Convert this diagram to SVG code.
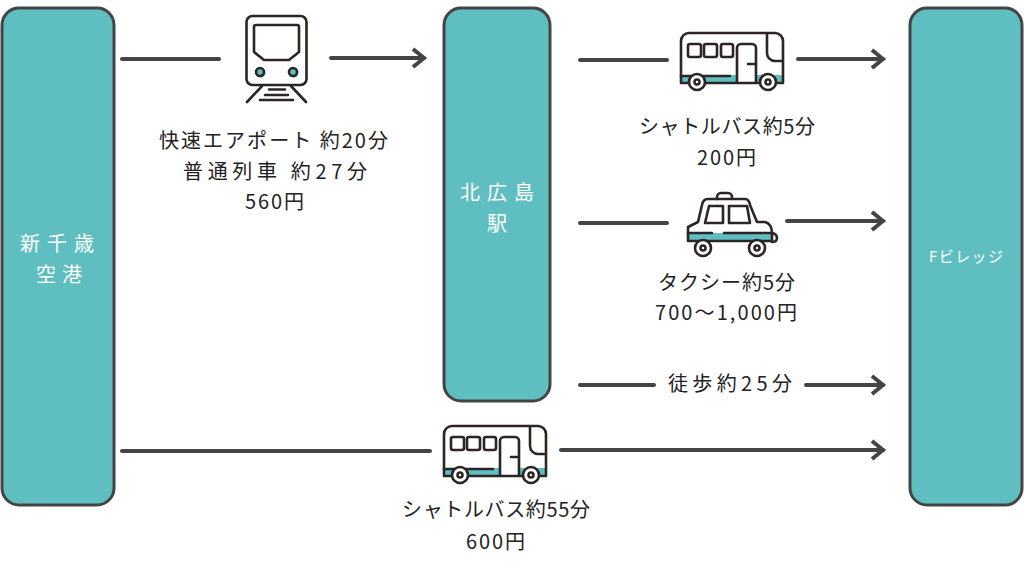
<svg xmlns="http://www.w3.org/2000/svg" width="1024" height="572" viewBox="0 0 1024 572">
<style>
.hub{fill:#5fbfc0;stroke:#444;stroke-width:3}
.c{fill:none;stroke:#444;stroke-width:4;stroke-linecap:round}
.i{fill:none;stroke:#2c2523;stroke-width:2.6;stroke-linejoin:round;stroke-linecap:round}
.w{fill:#fff;stroke:#2c2523;stroke-width:2.6}
.t{fill:#5fbfc0}
text{font-family:"Noto Sans CJK JP","Noto Sans",sans-serif;font-size:20px;fill:#222}
.n{fill:#fff}
</style>
<defs>
<marker id="a" markerUnits="userSpaceOnUse" markerWidth="22" markerHeight="24" refX="16" refY="12" orient="auto">
<path d="M5 3L16 12L5 21" fill="none" stroke="#444" stroke-width="4"/>
</marker>
<g id="bus">
<rect class="t" x="681" y="75" width="102" height="8"/>
<rect x="737" y="75" width="19" height="8" fill="#fff"/>
<path class="i" d="M681 83V41a8 8 0 0 1 8-8h86a8 8 0 0 1 8 8V83H681M767 33V53a8 8 0 0 0 8 8h8"/>
<path class="i" d="M681 76H730"/>
<rect class="i" x="688" y="44" width="13" height="13" rx="2"/>
<rect class="i" x="704" y="44" width="13" height="13" rx="2"/>
<rect class="i" x="721" y="44" width="12" height="13" rx="2"/>
<path class="i" d="M737 82V48a4 4 0 0 1 4-4h11a4 4 0 0 1 4 4V82M748 64H755"/>
<circle class="w" cx="697" cy="82" r="8"/><circle class="i" cx="697" cy="82" r="2.5"/>
<circle class="w" cx="768" cy="82" r="8"/><circle class="i" cx="768" cy="82" r="2.5"/>
</g>
</defs>

<g id="connectors">
<path class="c" d="M122 59H219"/>
<path class="c" d="M331 58H424" marker-end="url(#a)"/>
<path class="c" d="M580 60H667"/>
<path class="c" d="M798 59H883" marker-end="url(#a)"/>
<path class="c" d="M580 223H667"/>
<path class="c" d="M787 221H883" marker-end="url(#a)"/>
<path class="c" d="M580 385H654"/>
<path class="c" d="M806 385H883" marker-end="url(#a)"/>
<path class="c" d="M122 451H430"/>
<path class="c" d="M561 450H883" marker-end="url(#a)"/>
</g>

<g id="node-airport">
<rect class="hub" x="2" y="8" width="112" height="497" rx="17"/>
<text class="n" x="20" y="251" textLength="74">新千歳</text>
<text class="n" x="36" y="282" textLength="46">空港</text>
</g>
<g id="node-station">
<rect class="hub" x="444" y="8" width="106" height="393" rx="17"/>
<text class="n" x="460" y="200" textLength="74">北広島</text>
<text class="n" x="487" y="231">駅</text>
</g>
<g id="node-village">
<rect class="hub" x="910" y="8" width="112" height="497" rx="17"/>
<text class="n" x="929" y="262" textLength="74" style="font-size:15px">Fビレッジ</text>
</g>

<g id="icon-train">
<rect class="i" x="246.500" y="16" width="60" height="69" rx="6"/>
<path class="i" d="M256 25H297a2 2 0 0 1 2 2V52L289 60H264L254 52V27a2 2 0 0 1 2-2Z"/>
<circle class="t" cx="261" cy="73" r="4.500"/><circle class="t" cx="294" cy="73" r="4.500"/>
<circle class="i" cx="260" cy="72" r="4"/><circle class="i" cx="293" cy="72" r="4"/>
<path class="i" d="M262 86L247 102M291 86L306 102M269 89.500H285M265 95H288M260 100H293"/>
</g>
<g id="icon-bus-1"><use href="#bus"/></g>
<g id="icon-bus-2"><use href="#bus" transform="translate(-237 393)"/></g>
<g id="icon-taxi">
<rect class="t" x="689" y="233" width="83" height="8"/>
<path class="i" d="M717 199V197a4 4 0 0 1 4-4h7a4 4 0 0 1 4 4V199"/>
<path class="i" d="M688 233V227L698 222L702 205Q703 199 708 199H745Q749 199 750 205L757 222H765Q772 224 772 233V241H688V233"/>
<path class="i" d="M688 233H712M724 233H772M772 233Q777 234 777 238Q777 242 772 242"/>
<path class="i" d="M709 206H723V223H705Z"/>
<path class="i" d="M729 206H747L750 223H729Z"/>
<circle class="w" cx="703" cy="248" r="8"/><circle class="i" cx="703" cy="248" r="2.500"/>
<circle class="w" cx="757" cy="248" r="8"/><circle class="i" cx="757" cy="248" r="2.500"/>
</g>

<g id="labels">
<text x="159" y="148" textLength="229">快速エアポート 約20分</text>
<text x="183" y="179" textLength="184">普通列車 約27分</text>
<text x="245" y="209" textLength="59">560円</text>
<text x="639" y="134" textLength="176">シャトルバス約5分</text>
<text x="697" y="165" textLength="59">200円</text>
<text x="658" y="290" textLength="137">タクシー約5分</text>
<text x="655" y="320" textLength="142">700～1,000円</text>
<text x="668" y="391" textLength="124">徒歩約25分</text>
<text x="402" y="517" textLength="188">シャトルバス約55分</text>
<text x="466" y="549" textLength="59">600円</text>
</g>
</svg>
